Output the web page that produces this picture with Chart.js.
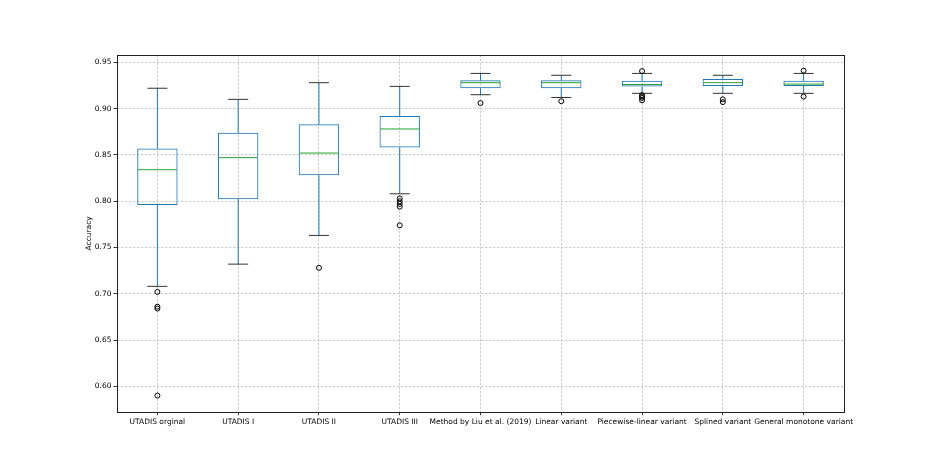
<!DOCTYPE html>
<html>
<head>
<meta charset="utf-8">
<script src="https://cdn.jsdelivr.net/npm/chart.js@4.4.0/dist/chart.umd.min.js"></script>
<style>
  html, body { margin: 0; padding: 0; background: #ffffff; }
  #wrap { width: 938px; height: 463px; }
</style>
</head>
<body>
<div id="wrap"><canvas id="c" width="938" height="463"></canvas></div>
<script>
const categories = ["UTADIS orginal", "UTADIS I", "UTADIS II", "UTADIS III",
  "Method by Liu et al. (2019)", "Linear variant", "Piecewise-linear variant",
  "Splined variant", "General monotone variant"];
const whiskerLow  = [0.708, 0.732, 0.763, 0.808, 0.915, 0.912, 0.9165, 0.9165, 0.9165];
const q1          = [0.796, 0.802, 0.828, 0.858, 0.922, 0.922, 0.924, 0.9245, 0.9245];
const median      = [0.834, 0.847, 0.852, 0.878, 0.928, 0.928, 0.926, 0.928, 0.9265];
const q3          = [0.857, 0.874, 0.883, 0.892, 0.9305, 0.9305, 0.930, 0.932, 0.930];
const whiskerHigh = [0.922, 0.910, 0.928, 0.924, 0.938, 0.936, 0.938, 0.936, 0.938];
const outliers = [
  [0.702, 0.686, 0.684, 0.590],
  [],
  [0.728],
  [0.803, 0.800, 0.797, 0.794, 0.774],
  [0.906],
  [0.908],
  [0.9405, 0.9145, 0.913, 0.9115, 0.909],
  [0.910, 0.907],
  [0.941, 0.913]
];
const yTicks = [0.60, 0.65, 0.70, 0.75, 0.80, 0.85, 0.90, 0.95];

const BLUE = '#1f77b4', GREEN = '#2ca02c', BLACK = '#000000';
const FONT = { family: 'DejaVu Sans', size: 7.5 };

const outlierPoints = [];
outliers.forEach((arr, i) => arr.forEach(v => outlierPoints.push({ x: categories[i], y: v })));

const frame = {
  id: 'frame',
  afterDatasetsDraw(chart) {
    const a = chart.chartArea, ctx = chart.ctx;
    ctx.save();
    ctx.strokeStyle = '#222';
    ctx.lineWidth = 1;
    ctx.strokeRect(Math.round(a.left) + 0.5, Math.round(a.top) + 0.5,
      Math.round(a.right - a.left), Math.round(a.bottom - a.top));
    ctx.restore();
  }
};

new Chart(document.getElementById('c'), {
  data: {
    labels: categories,
    datasets: [
      { type: 'bar', data: categories.map((c, i) => [whiskerLow[i], q1[i]]),
        backgroundColor: BLUE, borderWidth: 0, barThickness: 1, inflateAmount: 0, grouped: false, order: 5 },
      { type: 'bar', data: categories.map((c, i) => [q3[i], whiskerHigh[i]]),
        backgroundColor: BLUE, borderWidth: 0, barThickness: 1, inflateAmount: 0, grouped: false, order: 5 },
      { type: 'bar', data: categories.map((c, i) => [q1[i], q3[i]]),
        backgroundColor: 'rgba(0,0,0,0)', borderColor: BLUE, borderWidth: 1, inflateAmount: 0,
        borderSkipped: false, barPercentage: 0.5, categoryPercentage: 1, grouped: false, order: 4 },
      { type: 'line', data: categories.map((c, i) => ({ x: c, y: median[i] })),
        showLine: false, pointStyle: 'line', pointRadius: 19.5, pointBorderColor: GREEN,
        pointBorderWidth: 1, order: 1 },
      { type: 'line', data: categories.map((c, i) => ({ x: c, y: whiskerLow[i] })),
        showLine: false, pointStyle: 'line', pointRadius: 10, pointBorderColor: '#333',
        pointBorderWidth: 1, order: 2 },
      { type: 'line', data: categories.map((c, i) => ({ x: c, y: whiskerHigh[i] })),
        showLine: false, pointStyle: 'line', pointRadius: 10, pointBorderColor: '#333',
        pointBorderWidth: 1, order: 2 },
      { type: 'line', data: outlierPoints, showLine: false, pointStyle: 'circle',
        pointRadius: 2.5, pointBorderColor: BLACK, pointBackgroundColor: 'rgba(0,0,0,0)',
        pointBorderWidth: 1, order: 0 }
    ]
  },
  options: {
    responsive: false,
    animation: false,
    events: [],
    layout: { padding: { left: 0, right: 94, top: 55, bottom: 0 } },
    plugins: { legend: { display: false }, tooltip: { enabled: false } },
    scales: {
      x: {
        type: 'category',
        offset: true,
        grid: { offset: false, color: '#c0c0c0', lineWidth: 0.8,
          tickLength: 3.5, tickColor: BLACK, tickBorderDash: [], tickWidth: 0.8 },
        border: { display: false, dash: [2.5, 1.5] },
        ticks: { font: FONT, color: BLACK, padding: 2, autoSkip: false, maxRotation: 0, minRotation: 0 },
        afterFit(s) { s.height = 51.3; }
      },
      y: {
        type: 'linear',
        min: 0.5726, max: 0.9579,
        afterBuildTicks(s) { s.ticks = yTicks.map(v => ({ value: v })); },
        grid: { color: '#c0c0c0', lineWidth: 0.8,
          tickLength: 3.5, tickColor: BLACK, tickBorderDash: [], tickWidth: 0.8 },
        border: { display: false, dash: [2.5, 1.5] },
        ticks: { font: FONT, color: BLACK, padding: 2, callback: v => v.toFixed(2) },
        title: { display: true, text: 'Accuracy', font: FONT, color: BLACK, padding: { top: 84.8, bottom: 0 } },
        afterFit(s) { s.width = 117; }
      }
    }
  },
  plugins: [frame]
});
</script>
</body>
</html>
